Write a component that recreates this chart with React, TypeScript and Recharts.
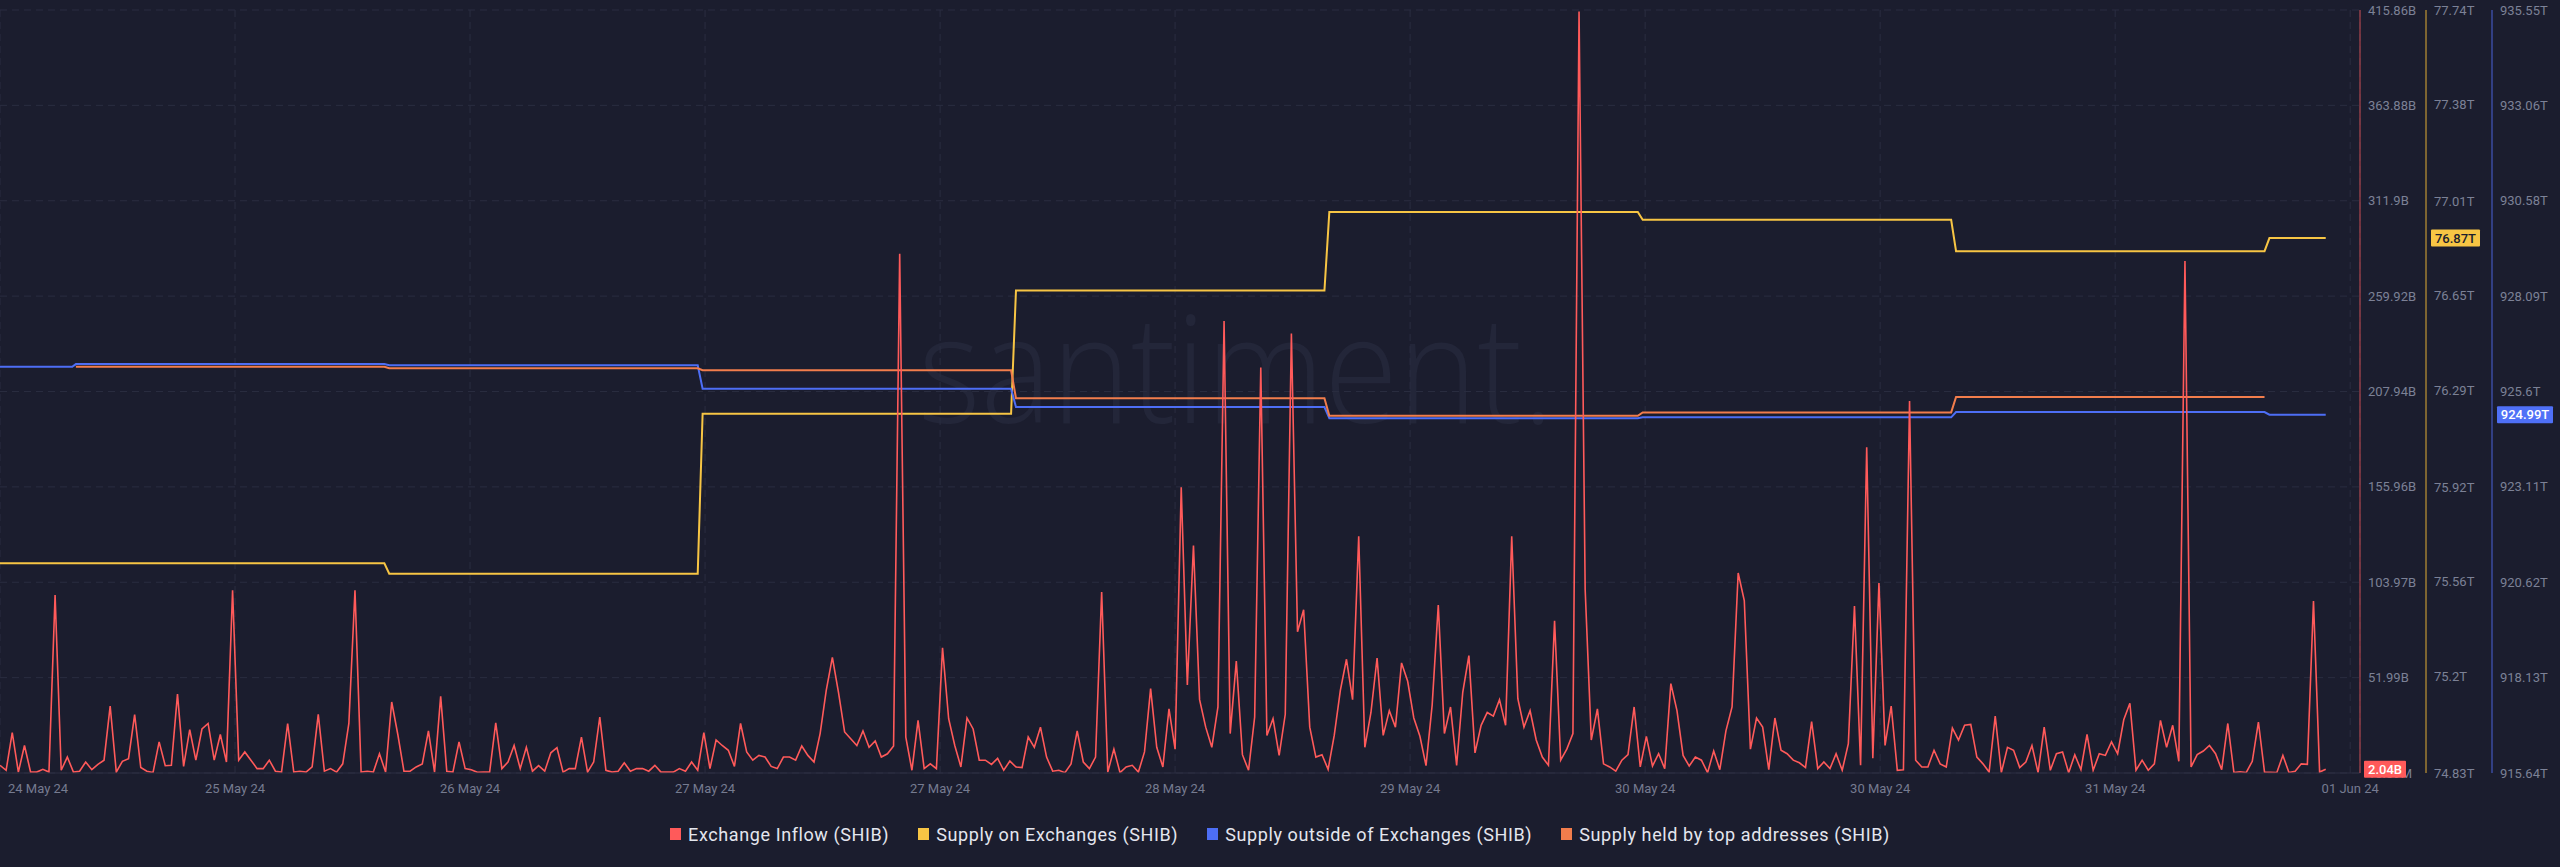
import React from 'react';
import { LineChart, Line, XAxis, YAxis, CartesianGrid, ReferenceLine } from 'recharts';

// Exchange Inflow (SHIB), billions, one reading every half hour from 24 May 24
const inflowStepHours = 0.5;
const exchangeInflow = [
  4.2, 1.5, 22, 0.5, 15, 0.5, 0.5, 2, 0.5, 97,
  1.5, 8.7, 0.5, 1, 6, 1.8, 4.7, 7, 36.5, 0.5,
  6.4, 7.8, 31.8, 3, 1, 0.2, 17, 4, 4.2, 43,
  3.6, 23.6, 7, 24, 27, 7, 21, 6, 99.6, 7,
  11.5, 7, 2.4, 2.4, 7, 1, 0.5, 27, 0.5, 1,
  0.5, 3.3, 32, 1, 2.4, 0.5, 5, 27, 99.6, 0.5,
  1, 0.5, 10.5, 0.5, 38.7, 21, 1, 1, 3.3, 5,
  23, 0.5, 41.8, 1, 0.5, 17, 2.4, 1.8, 0.4, 0.5,
  0.5, 27.3, 2.4, 6, 15, 2.4, 14, 1, 4, 1,
  11, 13.8, 0.5, 2.4, 2.4, 19.6, 0.5, 6, 30.5, 1.5,
  0.5, 1, 5.6, 1, 2.4, 2.4, 1, 4.2, 0.5, 0.5,
  0.5, 2.4, 1, 6, 1.5, 22, 2.4, 18, 15, 12.4,
  3.6, 27, 11.5, 7, 9.6, 8.7, 3.6, 2.4, 8.7, 8.7,
  7, 14.7, 9.6, 6, 21.5, 45, 63, 44, 22.4, 18.7,
  15, 23, 14, 17.5, 8.7, 10.5, 14.7, 283, 19.6, 1.5,
  28.7, 2.4, 5, 2.4, 68.2, 29.6, 15, 3.3, 30, 24,
  7, 7, 4.7, 8, 1.5, 6.5, 3.3, 3, 19.6, 14,
  25, 8.7, 1, 1.5, 0.2, 5, 23, 6, 2.4, 8.7,
  98.7, 0.5, 13, 0.2, 3.3, 4.2, 0.5, 11.5, 46, 14,
  3.3, 35, 13, 155.7, 48, 124, 40, 25, 14, 36,
  246.4, 21.5, 61, 10, 1.5, 30.5, 221, 20.5, 29.6, 9.6,
  32, 239.5, 77, 89, 25, 8.7, 10, 2, 20.5, 45,
  62, 40, 129, 14, 33, 62.7, 20.5, 34, 25, 60,
  50, 30, 20, 4, 37, 91.5, 21.5, 36, 4.2, 44,
  64, 11, 26, 33, 31, 40, 26, 129, 40.5, 25,
  34, 18, 8.7, 4.2, 83, 7, 13, 21.5, 415, 100,
  18, 35, 5, 3.3, 1, 7, 10, 36, 3.3, 20,
  3.8, 10.5, 2.4, 48.7, 34, 9.6, 3.8, 8.7, 7, 0.2,
  12, 1.8, 23, 36, 109, 94, 13, 30, 25, 1.8,
  30, 12.4, 10.5, 7, 5.6, 3, 28, 2.4, 6, 2.4,
  10.5, 1.5, 16, 91, 4.2, 177.6, 8, 103.5, 15, 36.5,
  1.5, 1.8, 202.7, 7, 3.3, 3.3, 12.4, 5, 3.3, 24.5,
  18, 26, 26.5, 8.7, 5, 0.5, 31, 0.2, 14, 12.4,
  3, 6, 15, 0.2, 25, 1.5, 10.5, 11.5, 0.2, 10,
  1.8, 21, 1.5, 10.5, 9.6, 17, 10.5, 29, 38, 1.5,
  7, 1.5, 5, 28.7, 14, 26, 6.4, 279, 3.3, 10,
  12, 15, 10.5, 1.8, 27, 0.2, 0.7, 0.2, 6.4, 27.8,
  0.5, 0.4, 0.2, 9.6, 0.2, 1, 5, 4.7, 93.7, 0.5, 2.04,
];

// [hour, trillions]
const supplyOnExchanges: [number, number][] = [
  [0, 75.63], [31.4, 75.63], [31.8, 75.59], [57.0, 75.59], [57.4, 76.2], [82.6, 76.2],
  [83.0, 76.67], [108.2, 76.67], [108.6, 76.97], [133.8, 76.97], [134.2, 76.94], [159.4, 76.94],
  [159.8, 76.82], [185.0, 76.82], [185.4, 76.87], [190, 76.87],
];
const supplyOutsideExchanges: [number, number][] = [
  [0, 926.24], [5.9, 926.24], [6.2, 926.31], [31.4, 926.31], [31.8, 926.28], [57.0, 926.28],
  [57.4, 925.67], [82.6, 925.67], [83.0, 925.19], [108.2, 925.19], [108.6, 924.9], [133.8, 924.9],
  [134.2, 924.92], [159.4, 924.92], [159.8, 925.06], [185.0, 925.06], [185.4, 924.99], [190, 924.99],
];
const supplyTopAddresses: [number, number][] = [
  [6.2, 926.24], [31.4, 926.24], [31.8, 926.2], [57.0, 926.2], [57.4, 926.15], [82.6, 926.15],
  [83.0, 925.42], [108.2, 925.42], [108.6, 924.96], [133.8, 924.96], [134.2, 925.05], [159.4, 925.05],
  [159.8, 925.45], [185.0, 925.45],
];

const xTickHours = [0, 19.2, 38.4, 57.6, 76.8, 96, 115.2, 134.4, 153.6, 172.8, 192];
const xTickLabels = ['24 May 24', '25 May 24', '26 May 24', '27 May 24', '27 May 24', '28 May 24',
  '29 May 24', '30 May 24', '30 May 24', '31 May 24', '01 Jun 24'];

const inflowTicks = [0.01009, 51.99, 103.97, 155.96, 207.94, 259.92, 311.9, 363.88, 415.86];
const onExTicks = [74.83, 75.2, 75.56, 75.92, 76.29, 76.65, 77.01, 77.38, 77.74];
const outExTicks = [915.64, 918.13, 920.62, 923.11, 925.6, 928.09, 930.58, 933.06, 935.55];

const RED = '#ff5a5a';
const YELLOW = '#f7c544';
const BLUE = '#4d6ef5';
const ORANGE = '#f27d4c';
const BG = '#1b1d2e';
const FONT = 'Roboto, "Open Sans", sans-serif';

const legendItems = [
  { name: 'Exchange Inflow (SHIB)', color: RED },
  { name: 'Supply on Exchanges (SHIB)', color: YELLOW },
  { name: 'Supply outside of Exchanges (SHIB)', color: BLUE },
  { name: 'Supply held by top addresses (SHIB)', color: ORANGE },
];

const inflowData = exchangeInflow.map((v, i) => ({ t: i * inflowStepHours, v }));
const toPoints = (pairs: [number, number][]) => pairs.map(([t, v]) => ({ t, v }));
const onExData = toPoints(supplyOnExchanges);
const outExData = toPoints(supplyOutsideExchanges);
const topData = toPoints(supplyTopAddresses);

const MARGIN = { top: 10, right: 2, bottom: 54, left: 0 };
const tickStyle = { fill: '#7c8196', fontSize: 13, fontFamily: FONT };

const XTick = (props: any) => {
  const { x, y, payload } = props;
  const idx = xTickHours.indexOf(payload.value);
  const first = idx === 0;
  return (
    <text x={first ? x + 8 : x} y={y} dy={20} textAnchor={first ? 'start' : 'middle'}
      fill="#767b90" fontSize={13} fontFamily={FONT}>
      {xTickLabels[idx]}
    </text>
  );
};

// value badge drawn on the axis strip, right of the plot
const badge = (text: string, offset: number, fill: string, color: string) => (props: any) => {
  const vb = props.viewBox;
  if (!vb) return null;
  const w = text.length * 7 + 7;
  const h = 17;
  const x = vb.x + vb.width + offset;
  return (
    <g>
      <rect x={x} y={vb.y - h / 2} width={w} height={h} fill={fill} rx={1} />
      <text x={x + w / 2} y={vb.y + 4.5} textAnchor="middle" fill={color} fontSize={13}
        fontWeight={500} fontFamily={FONT}>{text}</text>
    </g>
  );
};

const lastInflow = exchangeInflow[exchangeInflow.length - 1];
const lastOnEx = supplyOnExchanges[supplyOnExchanges.length - 1][1];
const lastOutEx = supplyOutsideExchanges[supplyOutsideExchanges.length - 1][1];

// axes shared by the main chart and the badge overlay
const axes = (visible: boolean) => [
  <XAxis key="x" dataKey="t" type="number" domain={[0, 192.8]} ticks={xTickHours} interval={0}
    axisLine={visible ? { stroke: '#2c2f42' } : false} tickLine={false} tickSize={0} tickMargin={0}
    height={40} tick={visible ? <XTick /> : false} allowDataOverflow />,
  <YAxis key="inflow" yAxisId="inflow" orientation="right" width={66} domain={[0.01009, 415.86]}
    ticks={inflowTicks} interval={0} axisLine={visible ? { stroke: '#c84a50' } : false} tickLine={false}
    tickSize={0} tickMargin={8} tick={visible ? tickStyle : false} allowDataOverflow
    tickFormatter={(v: number) => (v < 1 ? `${(v * 1000).toFixed(2)}M` : `${v}B`)} />,
  <YAxis key="onEx" yAxisId="onEx" orientation="right" width={66} domain={[74.83, 77.74]}
    ticks={onExTicks} interval={0} axisLine={visible ? { stroke: '#e1ad34' } : false} tickLine={false}
    tickSize={0} tickMargin={8} tick={visible ? tickStyle : false} allowDataOverflow
    tickFormatter={(v: number) => `${v}T`} />,
  <YAxis key="outEx" yAxisId="outEx" orientation="right" width={66} domain={[915.64, 935.55]}
    ticks={outExTicks} interval={0} axisLine={visible ? { stroke: '#4a63d8' } : false} tickLine={false}
    tickSize={0} tickMargin={8} tick={visible ? tickStyle : false} allowDataOverflow
    tickFormatter={(v: number) => `${v}T`} />,
];

// the series; in the overlay they are drawn without stroke so the axes stay bound
const series = (visible: boolean) => [
  <Line key="onEx" yAxisId="onEx" data={onExData} dataKey="v" type="linear"
    stroke={visible ? YELLOW : 'none'} strokeWidth={2} dot={false} isAnimationActive={false} />,
  <Line key="outEx" yAxisId="outEx" data={outExData} dataKey="v" type="linear"
    stroke={visible ? BLUE : 'none'} strokeWidth={2} dot={false} isAnimationActive={false} />,
  <Line key="top" yAxisId="outEx" data={topData} dataKey="v" type="linear"
    stroke={visible ? ORANGE : 'none'} strokeWidth={2} dot={false} isAnimationActive={false} />,
  <Line key="inflow" yAxisId="inflow" dataKey="v" type="linear"
    stroke={visible ? RED : 'none'} strokeWidth={1.6} dot={false} isAnimationActive={false} />,
];

export default function App() {
  return (
    <div style={{ position: 'absolute', left: 0, top: 0, width: 2560, height: 867, background: BG, overflow: 'hidden' }}>
      {/* watermark */}
      <svg width={2560} height={867} style={{ position: 'absolute', left: 0, top: 0 }}>
        <text x={918} y={423} fontSize={150} fontWeight={300} fontFamily='"Open Sans", sans-serif'
          fill="#232639" textLength={636} lengthAdjust="spacingAndGlyphs">santiment.</text>
      </svg>
      <div style={{ position: 'absolute', left: 0, top: 0 }}>
        <LineChart width={2560} height={867} data={inflowData} margin={MARGIN}>
          <CartesianGrid yAxisId="inflow" stroke="#2a2d40" strokeDasharray="7 5" />
          {axes(true)}
          {series(true)}
        </LineChart>
      </div>
      {/* last-value badges, layered above the axis labels */}
      <div style={{ position: 'absolute', left: 0, top: 0, pointerEvents: 'none' }}>
        <LineChart width={2560} height={867} data={inflowData} margin={MARGIN}>
          {axes(false)}
          {series(false)}
          <ReferenceLine yAxisId="inflow" y={lastInflow} stroke="none"
            label={badge(`${lastInflow}B`, 4, '#ff5a5a', '#ffffff')} />
          <ReferenceLine yAxisId="onEx" y={lastOnEx} stroke="none"
            label={badge(`${lastOnEx}T`, 71, '#f7c544', '#1b1d2e')} />
          <ReferenceLine yAxisId="outEx" y={lastOutEx} stroke="none"
            label={badge(`${lastOutEx}T`, 137, '#4f70f7', '#ffffff')} />
        </LineChart>
      </div>
      <div style={{ position: 'absolute', left: 0, top: 823, width: 2560, height: 22, display: 'flex',
        justifyContent: 'center', alignItems: 'center', gap: 29, fontFamily: FONT, fontSize: 18,
        letterSpacing: 0.6, color: '#e4e6ee' }}>
        {legendItems.map((it) => (
          <div key={it.name} style={{ display: 'flex', alignItems: 'center', gap: 7 }}>
            <span style={{ width: 11, height: 12, background: it.color, display: 'inline-block' }} />
            <span>{it.name}</span>
          </div>
        ))}
      </div>
    </div>
  );
}
